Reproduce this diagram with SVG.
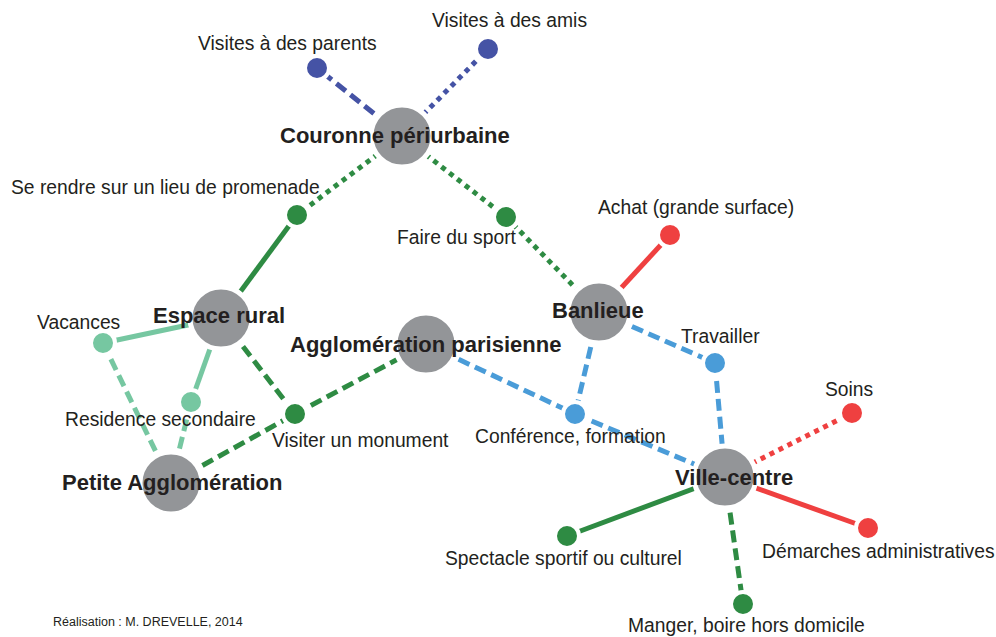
<svg xmlns="http://www.w3.org/2000/svg" width="996" height="637" viewBox="0 0 996 637">
<style>
.c{fill:none;stroke-width:5}
.solid{}
.dash{stroke-dasharray:12 6}
.dot{stroke-dasharray:5 5}
.dg{stroke:#2e8b43}.lg{stroke:#76c7a1}.db{stroke:#4553a5}.lb{stroke:#4a9cd8}.rd{stroke:#ef4040}
.big{fill:#939598;stroke:#fff;stroke-width:5}
.sm{stroke:#fff;stroke-width:4}
.fdg{fill:#2e8b43}.flg{fill:#76c7a1}.fdb{fill:#4553a5}.flb{fill:#4a9cd8}.frd{fill:#ef4040}
text{font-family:"Liberation Sans",Arial,sans-serif;fill:#231f20}
.lab{font-size:19.3px}
.bl{font-size:22px;font-weight:bold}
.ft{font-size:12.5px}
</style>
<rect width="996" height="637" fill="#fff"/>
<g id="connectors">
<line class="c dash db" x1="402" y1="136" x2="317" y2="68"/>
<line class="c dot db" x1="402" y1="136" x2="488" y2="49"/>
<line class="c dot dg" x1="402" y1="136" x2="297" y2="215"/>
<line class="c dot dg" x1="402" y1="136" x2="506" y2="217"/>
<line class="c dot dg" x1="506" y1="217" x2="599" y2="312"/>
<line class="c solid dg" x1="297" y1="215" x2="221" y2="318"/>
<line class="c solid lg" x1="221" y1="318" x2="103" y2="343"/>
<line class="c solid lg" x1="221" y1="318" x2="191" y2="402"/>
<line class="c dash lg" x1="103" y1="343" x2="171" y2="483"/>
<line class="c dash lg" x1="191" y1="402" x2="171" y2="483"/>
<line class="c dash dg" x1="221" y1="318" x2="295" y2="414"/>
<line class="c dash dg" x1="171" y1="483" x2="295" y2="414"/>
<line class="c dash dg" x1="295" y1="414" x2="426" y2="344"/>
<line class="c dash lb" x1="426" y1="344" x2="575" y2="414"/>
<line class="c dash lb" x1="575" y1="414" x2="725" y2="477"/>
<line class="c dash lb" x1="599" y1="312" x2="575" y2="414"/>
<line class="c dash lb" x1="599" y1="312" x2="715" y2="363"/>
<line class="c dash lb" x1="715" y1="363" x2="725" y2="477"/>
<line class="c solid rd" x1="599" y1="312" x2="670" y2="235"/>
<line class="c dot rd" x1="725" y1="477" x2="852" y2="413"/>
<line class="c solid rd" x1="725" y1="477" x2="868" y2="528"/>
<line class="c solid dg" x1="725" y1="477" x2="567" y2="536"/>
<line class="c dash dg" x1="725" y1="477" x2="743" y2="604"/>
</g>
<g id="couronne"><circle class="big" cx="402" cy="136" r="31"/><text class="bl" x="280" y="143">Couronne périurbaine</text></g>
<g id="espace-rural"><circle class="big" cx="221" cy="318" r="31"/><text class="bl" x="153" y="323">Espace rural</text></g>
<g id="petite-agglo"><circle class="big" cx="171" cy="483" r="31"/><text class="bl" x="62" y="490">Petite Agglomération</text></g>
<g id="agglo-parisienne"><circle class="big" cx="426" cy="344" r="31"/><text class="bl" x="290" y="352">Agglomération parisienne</text></g>
<g id="banlieue"><circle class="big" cx="599" cy="312" r="31"/><text class="bl" x="552" y="318">Banlieue</text></g>
<g id="ville-centre"><circle class="big" cx="725" cy="477" r="31"/><text class="bl" x="675" y="485">Ville-centre</text></g>
<g id="visites-parents"><circle class="sm fdb" cx="317" cy="68" r="12"/><text class="lab" x="198" y="50">Visites à des parents</text></g>
<g id="visites-amis"><circle class="sm fdb" cx="488" cy="49" r="12"/><text class="lab" x="432" y="27">Visites à des amis</text></g>
<g id="promenade"><circle class="sm fdg" cx="297" cy="215" r="12"/><text class="lab" x="11" y="194">Se rendre sur un lieu de promenade</text></g>
<g id="sport"><circle class="sm fdg" cx="506" cy="217" r="12"/><text class="lab" x="397" y="244">Faire du sport</text></g>
<g id="achat"><circle class="sm frd" cx="670" cy="235" r="12"/><text class="lab" x="598" y="214">Achat (grande surface)</text></g>
<g id="travailler"><circle class="sm flb" cx="715" cy="363" r="12"/><text class="lab" x="681" y="343">Travailler</text></g>
<g id="vacances"><circle class="sm flg" cx="103" cy="343" r="12"/><text class="lab" x="37" y="329">Vacances</text></g>
<g id="residence"><circle class="sm flg" cx="191" cy="402" r="12"/><text class="lab" x="65" y="426">Residence secondaire</text></g>
<g id="monument"><circle class="sm fdg" cx="295" cy="414" r="12"/><text class="lab" x="272" y="447">Visiter un monument</text></g>
<g id="conference"><circle class="sm flb" cx="575" cy="414" r="12"/><text class="lab" x="475" y="443">Conférence, formation</text></g>
<g id="soins"><circle class="sm frd" cx="852" cy="413" r="12"/><text class="lab" x="825" y="396">Soins</text></g>
<g id="demarches"><circle class="sm frd" cx="868" cy="528" r="12"/><text class="lab" x="762" y="558">Démarches administratives</text></g>
<g id="spectacle"><circle class="sm fdg" cx="567" cy="536" r="12"/><text class="lab" x="445" y="565">Spectacle sportif ou culturel</text></g>
<g id="manger"><circle class="sm fdg" cx="743" cy="604" r="12"/><text class="lab" x="628" y="632">Manger, boire hors domicile</text></g>
<text class="ft" x="53" y="626">Réalisation : M. DREVELLE, 2014</text>
</svg>
